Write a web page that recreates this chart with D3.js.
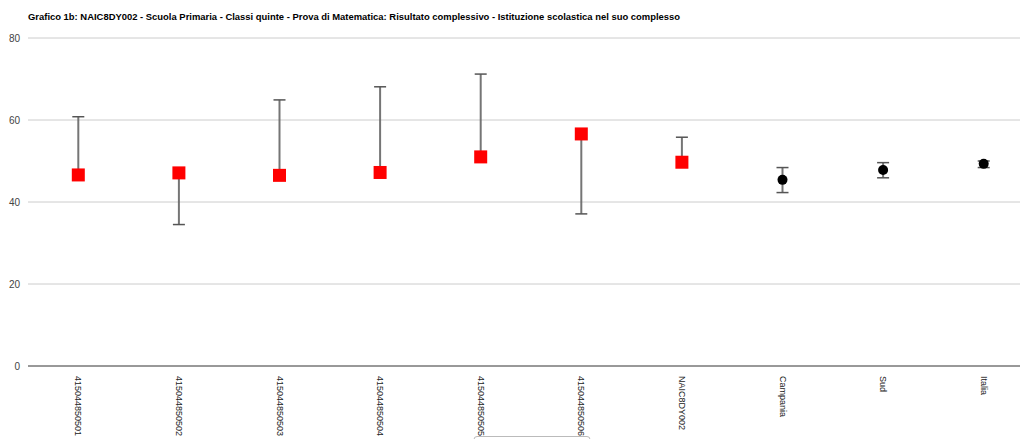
<!DOCTYPE html>
<html>
<head>
<meta charset="utf-8">
<script src="https://cdn.jsdelivr.net/npm/d3@7"></script>
<style>
  html, body { margin: 0; padding: 0; background: #fff; overflow: hidden; }
  svg { display: block; font-family: "Liberation Sans", Arial, sans-serif; }
</style>
</head>
<body>
<svg id="chart" width="1020" height="439"></svg>
<script>
const titleText = "Grafico 1b: NAIC8DY002 - Scuola Primaria - Classi quinte - Prova di Matematica: Risultato complessivo - Istituzione scolastica nel suo complesso";
const categories = ["415044850501","415044850502","415044850503","415044850504","415044850505","415044850506","NAIC8DY002","Campania","Sud","Italia"];
const values = [46.6, 47.1, 46.5, 47.2, 51.0, 56.6, 49.7, 45.4, 47.8, 49.3];
const lowValues = [46.6, 34.5, 46.5, 47.2, 51.0, 37.1, 49.7, 42.3, 45.9, 48.4];
const highValues = [60.8, 47.1, 64.9, 68.1, 71.2, 56.6, 55.8, 48.4, 49.6, 50.0];
const markerTypes = ["square","square","square","square","square","square","square","circle","circle","circle"];
const yTicks = [0, 20, 40, 60, 80];

const data = categories.map((c, i) => ({
  cat: c, value: values[i], low: lowValues[i], high: highValues[i], type: markerTypes[i]
}));

const svg = d3.select("#chart");
const plotLeft = 28, plotRight = 1034, plotTop = 38, plotBottom = 366;

const x = d3.scaleBand().domain(categories).range([plotLeft, plotRight]);
const y = d3.scaleLinear().domain([0, 80]).range([plotBottom, plotTop]);

// title
svg.append("text")
  .attr("x", 28).attr("y", 20)
  .attr("font-size", 9.8).attr("font-weight", "bold")
  .attr("fill", "#000")
  .attr("textLength", 652).attr("lengthAdjust", "spacingAndGlyphs")
  .text(titleText);

// gridlines
svg.append("g").selectAll("line")
  .data(yTicks.filter(t => t !== 0))
  .join("line")
  .attr("x1", plotLeft).attr("x2", plotRight)
  .attr("y1", d => y(d)).attr("y2", d => y(d))
  .attr("stroke", "#cccccc").attr("stroke-width", 1);

// y axis labels
const yAxis = d3.axisLeft(y).tickValues(yTicks).tickSize(0).tickPadding(8);
const yg = svg.append("g").attr("transform", `translate(${plotLeft},0)`).call(yAxis);
yg.select(".domain").remove();
yg.selectAll("text").attr("font-size", 10).attr("fill", "#444")
  .attr("font-family", "Liberation Sans, Arial, sans-serif");

// baseline
svg.append("line")
  .attr("x1", plotLeft).attr("x2", plotRight)
  .attr("y1", y(0)).attr("y2", y(0))
  .attr("stroke", "#333").attr("stroke-width", 1);

// x labels (rotated)
const xAxis = d3.axisBottom(x).tickSize(0).tickPadding(0);
const xg = svg.append("g").attr("transform", `translate(0,${plotBottom})`).call(xAxis);
xg.select(".domain").remove();
xg.selectAll("text")
  .attr("font-size", 9).attr("fill", "#222")
  .attr("font-family", "Liberation Sans, Arial, sans-serif")
  .attr("text-anchor", "start")
  .attr("dy", null).attr("y", 0)
  .attr("transform", "translate(-3,10) rotate(90)");

// error bars
const cx = d => x(d.cat) + x.bandwidth() / 2;
const bars = svg.append("g");
bars.selectAll("line.stem").data(data).join("line")
  .attr("class", "stem")
  .attr("x1", cx).attr("x2", cx)
  .attr("y1", d => y(d.low)).attr("y2", d => y(d.high))
  .attr("stroke", "#666").attr("stroke-width", 2).attr("stroke-opacity", 0.9);
const caps = [];
data.forEach(d => {
  if (d.high > d.value) caps.push({ d, v: d.high });
  if (d.low < d.value) caps.push({ d, v: d.low });
});
bars.selectAll("line.cap").data(caps).join("line")
  .attr("class", "cap")
  .attr("x1", c => cx(c.d) - 6).attr("x2", c => cx(c.d) + 6)
  .attr("y1", c => y(c.v)).attr("y2", c => y(c.v))
  .attr("stroke", "#555").attr("stroke-width", 1.5);

// markers
const sq = 13;
svg.append("g").selectAll("rect").data(data.filter(d => d.type === "square")).join("rect")
  .attr("x", d => cx(d) - sq / 2).attr("y", d => y(d.value) - sq / 2)
  .attr("width", sq).attr("height", sq)
  .attr("fill", "#ff0000");
svg.append("g").selectAll("circle").data(data.filter(d => d.type === "circle")).join("circle")
  .attr("cx", cx).attr("cy", d => y(d.value)).attr("r", 5)
  .attr("fill", "#000");

// partial box at bottom edge
svg.append("rect")
  .attr("x", 474).attr("y", 436.5).attr("width", 116).attr("height", 20).attr("rx", 3)
  .attr("fill", "#fff").attr("stroke", "#bbb");
</script>
</body>
</html>
